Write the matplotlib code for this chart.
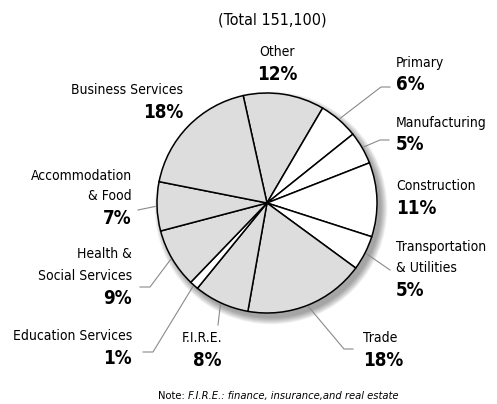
"""Employment by industry pie chart (Total 151,100)."""

import matplotlib.pyplot as plt
from matplotlib.patches import Circle
import numpy as np

plt.rcParams["font.family"] = ["DejaVu Sans"]
plt.rcParams["font.stretch"] = "condensed"

# shares; labels carry the rounded figures
industries = ["Other", "Primary", "Manufacturing", "Construction",
              "Transportation\n& Utilities", "Trade", "F.I.R.E.",
              "Education Services", "Health &\nSocial Services",
              "Accommodation\n& Food", "Business Services"]
shares = [11.9, 5.8, 4.8, 10.9, 5.1, 17.7, 8.1, 1.3, 8.7, 7.2, 18.4]
pct_labels = ["12%", "6%", "5%", "11%", "5%", "18%", "8%", "1%", "9%", "7%", "18%"]
shaded = [True, False, False, False, False, True, True, False, True, True, True]

W, H = 497, 404
CX, CY, R = 267, 203, 110


def Y(y):
    return H - y


# label layout in pixels: (x, y of percent line, alignment)
label_pos = [(277, 74, "center"), (396, 85, "left"), (396, 145, "left"),
             (396, 208, "left"), (396, 290, "left"), (363, 360, "left"),
             (222, 360, "right"), (132, 359, "right"), (132, 298, "right"),
             (132, 219, "right"), (183, 112, "right")]
# leader lines: points after the anchor on the rim
leaders = [None, [(381, 87), (390, 87)], [(380, 140), (389, 140)], None,
           [(390, 270)], [(344, 349), (353, 349)], [(218, 325)],
           [(153, 352), (143, 352)], [(150, 287), (140, 287)],
           [(138, 210)], None]

fig = plt.figure(figsize=(W / 100, H / 100), dpi=100)
ax = fig.add_axes([0, 0, 1, 1])

# soft drop shadow
for i in range(8):
    ax.add_patch(Circle((CX + 4, Y(CY) - 5), R + 0.9 * i, color="black",
                        alpha=0.05, lw=0, zorder=0))

colors = ["#dddddd" if s else "white" for s in shaded]
wedges, _ = ax.pie(shares, colors=colors, startangle=102.5, counterclock=False,
                   center=(CX, Y(CY)), radius=R, frame=True,
                   wedgeprops=dict(edgecolor="black", linewidth=1.1))

for w, name, pct, (x, yp, ha), lead in zip(wedges, industries, pct_labels,
                                            label_pos, leaders):
    ax.text(x, Y(yp), pct, ha=ha, va="center", fontsize=13.5, fontweight="bold")
    lines = name.split("\n")
    for k, line in enumerate(reversed(lines)):
        ax.text(x, Y(yp - 22.5 - 21 * k), line, ha=ha, va="center", fontsize=10)
    if lead:
        mid = np.deg2rad((w.theta1 + w.theta2) / 2)
        ax_ = CX + (R + 2) * np.cos(mid)
        ay_ = Y(CY) + (R + 2) * np.sin(mid)
        xs = [ax_] + [p[0] for p in lead]
        ys = [ay_] + [Y(p[1]) for p in lead]
        ax.plot(xs, ys, color="#8a8a8a", lw=0.8, zorder=0.5)

ax.text(272, Y(20), "(Total 151,100)", ha="center", va="center", fontsize=11.5)

ax.set_xlim(0, W)
ax.set_ylim(0, H)
ax.set_aspect("equal")
ax.axis("off")

note = ax.text(158, Y(396), "Note: ", ha="left", va="center", fontsize=8)
r = fig.canvas.get_renderer()
bb = note.get_window_extent(renderer=r)
ax.text(bb.x1, Y(396), "F.I.R.E.: finance, insurance,and real estate", ha="left",
        va="center", fontsize=8, fontstyle="italic")

fig.savefig("out.png", dpi=100)
